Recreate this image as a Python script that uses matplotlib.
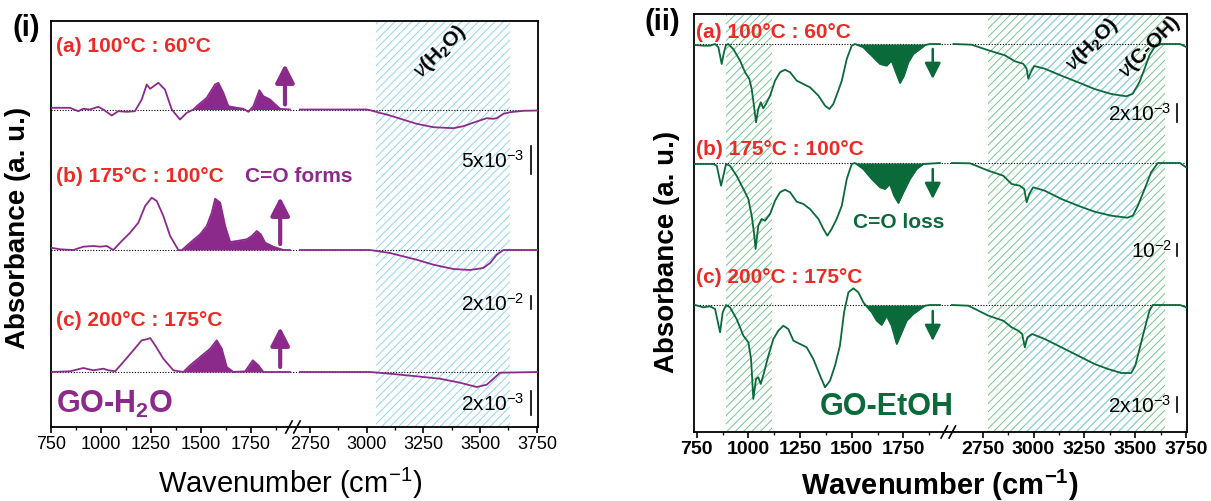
import numpy as np
import matplotlib.pyplot as plt

plt.rcParams['font.family'] = 'Liberation Sans'
plt.rcParams['mathtext.fontset'] = 'custom'
plt.rcParams['mathtext.rm'] = 'Liberation Sans'
plt.rcParams['mathtext.it'] = 'Liberation Sans:italic'
plt.rcParams['mathtext.bf'] = 'Liberation Sans:bold'
plt.rcParams['hatch.linewidth'] = 0.7

PURPLE = '#8c2a8c'
GREEN = '#0a6a3a'
RED = '#ee2a24'

# ---------------- panel (i): GO-H2O (difference spectra, a.u.) ----------------
wn_h2o_a_lo = [750, 846, 888, 913, 946, 988, 1013, 1055, 1088, 1130, 1171, 1205, 1230, 1247, 1288, 1321, 1355,
               1396, 1430, 1463, 1480, 1530, 1571, 1588, 1613, 1638, 1680, 1713, 1738, 1763, 1793, 1813, 1846,
               1896, 1946]
ab_h2o_a_lo = [1.7, 1.7, -1.7, 0.7, 0, 2.7, 0, -6, -1.7, -2.3, -1.7, 10, 25, 20.7, 26.7, 20, 0,
               -10, -3.3, 0, 3.3, 11.7, 25, 26.7, 16.7, 3.3, 1.7, 0.7, -2.3, 3.3, 19.3, 13.3, 10,
               0.7, 0]
wn_h2o_a_hi = [2706, 3000, 3015, 3103, 3220, 3294, 3382, 3426, 3485, 3529, 3559, 3573, 3603, 3632, 3691, 3755]
ab_h2o_a_hi = [0, 0, -0.7, -6, -14.3, -17.7, -18.7, -16.7, -12, -8.7, -9.3, -8.7, -4.3, -2.7, -1.3, -1]

wn_h2o_b_lo = [750, 797, 863, 913, 963, 997, 1030, 1063, 1105, 1147, 1188, 1222, 1255, 1280, 1313, 1347, 1388,
               1405, 1447, 1497, 1530, 1555, 1572, 1597, 1622, 1647, 1680, 1730, 1755, 1780, 1800, 1822, 1863,
               1913, 1946]
ab_h2o_b_lo = [2.3, 0.7, 0, 3.3, 4, 3.3, 4, 0, 9, 17.3, 27.3, 44, 52.3, 49, 34, 14, 0,
               -0.3, 7.3, 15.7, 24, 37.3, 51.3, 47.3, 24, 8, 9, 10.7, 14, 19, 15.7, 7.3, 3.3,
               0, 0]
wn_h2o_b_hi = [2706, 3015, 3103, 3220, 3294, 3382, 3455, 3514, 3544, 3573, 3603, 3755]
ab_h2o_b_hi = [0, 0, -3, -9.7, -14.7, -19, -20, -18, -13, -4.7, 0, 0]

wn_h2o_c_lo = [750, 847, 913, 963, 1013, 1038, 1072, 1113, 1163, 1205, 1230, 1247, 1272, 1313, 1363, 1413,
               1447, 1497, 1547, 1580, 1605, 1630, 1663, 1722, 1760, 1788, 1813, 1946]
ab_h2o_c_lo = [0, 0.7, 4, 1.7, 3.3, 1.7, 0.7, 10, 21.7, 31.7, 32.7, 34, 26.7, 13.3, 1.7, 0,
               6.7, 15, 23.3, 31.7, 23.3, 5, 0, 0.7, 11.7, 6.7, 0, 0]
wn_h2o_c_hi = [2706, 3015, 3103, 3220, 3323, 3411, 3485, 3529, 3559, 3588, 3755]
ab_h2o_c_hi = [0, 0, -1.7, -4.3, -6.7, -10.7, -15, -12.7, -6.7, -0.7, 0]

offset_h2o = [317.5, 177, 55]           # stacking offsets of (a), (b), (c)
arrow_h2o = [(5, 45.5), (6, 53), (5, 45)]   # up arrows (start, tip) above baseline
bar_h2o = [(-64, -36), (-59, -46), (-43, -19)]   # scale bars relative to baseline
bar_lbl_h2o = [r'5x10$^{-3}$', r'2x10$^{-2}$', r'2x10$^{-3}$']

# ---------------- panel (ii): GO-EtOH ----------------
wn_et_a_lo = [742, 782, 814, 839, 855, 871, 882, 892, 903, 927, 960, 984, 1005, 1016, 1027, 1037, 1048, 1060,
              1072, 1085, 1105, 1129, 1153, 1177, 1202, 1234, 1266, 1298, 1339, 1371, 1392, 1411, 1435, 1452,
              1476, 1500, 1516, 1556, 1597, 1637, 1669, 1693, 1714, 1734, 1753, 1774, 1798, 1831, 1855, 1879,
              1927]
ab_et_a_lo = [-1, -1.7, -1.7, 0, -3.3, -20, -8.3, -1, 0, -5, -16.7, -28.3, -35, -45, -61.7, -78.3, -65, -58.3,
              -64.3, -60, -51.7, -36.7, -28.3, -25.7, -28.3, -36.7, -40, -43.3, -51.7, -61.7, -65, -60, -46.7,
              -36.7, -15, -1.7, 0, -3.3, -11.7, -20, -21.7, -16.7, -28.3, -39, -31.7, -18.3, -10, -5, -1, 0, 0]
wn_et_a_hi = [2606, 2696, 2778, 2859, 2908, 2949, 2966, 2974, 2987, 3003, 3055, 3137, 3219, 3300, 3382, 3456,
              3488, 3521, 3546, 3570, 3595, 3627, 3720, 3750]
ab_et_a_hi = [0, -0.7, -6.3, -11.3, -17.3, -19.7, -24.7, -34.7, -28, -22, -24.7, -31.7, -38.3, -45, -50, -52.3,
              -49.7, -38, -24.7, -11.3, -3, 0, 0, -3]

wn_et_b_lo = [742, 831, 847, 868, 879, 892, 911, 943, 976, 1000, 1016, 1027, 1035, 1048, 1064, 1081, 1105, 1129,
              1153, 1177, 1202, 1234, 1266, 1298, 1339, 1363, 1382, 1403, 1427, 1452, 1476, 1500, 1516, 1556,
              1597, 1637, 1661, 1685, 1705, 1726, 1750, 1782, 1814, 1847, 1927]
ab_et_b_lo = [-1, -1, -2.7, -22.7, -12.7, -1, -2.7, -12.7, -26, -36, -52.7, -69.3, -86, -62.7, -56, -57.7, -51,
              -37.7, -29.3, -26.7, -29.3, -38.7, -41, -46, -56, -66, -72.7, -66, -56, -42.7, -16, -1, 0, -6,
              -16, -24.3, -26, -21, -32.7, -40, -29.3, -16, -6, -1, 0]
wn_et_b_hi = [2598, 2688, 2778, 2851, 2892, 2933, 2954, 2966, 2979, 2998, 3055, 3137, 3219, 3300, 3382, 3461,
              3488, 3513, 3546, 3578, 3611, 3720, 3750]
ab_et_b_hi = [0, -0.3, -7.7, -12.7, -21, -22.7, -26, -39.3, -31, -24.3, -27.7, -36, -42.7, -48.7, -52.7, -54.7,
              -52.7, -42.7, -26, -9.3, 0, 0, -4.3]

wn_et_c_lo = [742, 782, 814, 839, 863, 876, 892, 911, 943, 976, 1000, 1013, 1024, 1037, 1048, 1060, 1076, 1097,
              1121, 1145, 1169, 1193, 1218, 1250, 1282, 1314, 1347, 1371, 1395, 1419, 1443, 1463, 1484, 1508,
              1532, 1556, 1572, 1597, 1621, 1645, 1669, 1693, 1718, 1742, 1766, 1798, 1831, 1855, 1879, 1927]
ab_et_c_lo = [0, -2.3, -1.3, -4, -27.3, -7.3, 0, -2.3, -14, -30.7, -37.3, -54, -94, -74, -72.3, -79, -67.3,
              -50.7, -34, -25.7, -20.7, -24, -35.7, -39, -42.3, -54, -70.7, -82.3, -75.7, -60.7, -40.7, -7.3,
              12.7, 16.7, 12.7, 2.7, -1.3, -7.3, -15.7, -20, -10.7, -20.7, -39, -27.3, -15.7, -9, -4, -0.7, 0, 0]
wn_et_c_hi = [2598, 2680, 2778, 2851, 2892, 2925, 2944, 2957, 2970, 2993, 3055, 3137, 3219, 3300, 3366, 3431,
              3480, 3500, 3521, 3546, 3570, 3586, 3720, 3750]
ab_et_c_hi = [0, -0.7, -10.7, -15.7, -22.3, -25.7, -29, -42.3, -32.3, -29, -34, -42.3, -50.7, -59, -64, -68,
              -68, -60.7, -44, -24, -5.7, 0, 0, -2.3]

offset_et = [388, 269, 127]
arrow_et = [(-5, -35), (-6, -36), (-6, -36)]
bar_et = [(-78, -60), (-93, -81), (-107, -92)]
bar_lbl_et = [r'2x10$^{-3}$', r'10$^{-2}$', r'2x10$^{-3}$']

major_ticks = [750, 1000, 1250, 1500, 1750, 2750, 3000, 3250, 3500, 3750]
minor_ticks = [875, 1125, 1375, 1625, 1875, 2875, 3125, 3375, 3625]

W, H = 1211, 502


def broken_scale(wp, up):
    # piecewise linear axis with compressed gap between the two spectral windows
    def conv(x, xp, fp):
        x = np.asarray(x, float)
        y = np.interp(x, xp, fp)
        y = np.where(x < xp[0], fp[0] + (x - xp[0]) * (fp[1] - fp[0]) / (xp[1] - xp[0]), y)
        y = np.where(x > xp[-1], fp[-1] + (x - xp[-1]) * (fp[-1] - fp[-2]) / (xp[-1] - xp[-2]), y)
        return y
    return (lambda x: conv(x, wp, up)), (lambda u: conv(u, up, wp))


def setup_axis(ax, wp, up, xlim, ylim, bold):
    fwd, inv = broken_scale(wp, up)
    ax.set_xscale('function', functions=(fwd, inv))
    ax.set_xlim(*xlim)
    ax.set_ylim(*ylim)
    ax.set_xticks(major_ticks)
    ax.set_xticks(minor_ticks, minor=True)
    ax.set_xticklabels([str(t) for t in major_ticks], fontsize=14 if bold else 13,
                       fontweight='bold' if bold else 'normal')
    ax.set_yticks([])
    ax.tick_params(axis='x', which='major', direction='out', length=4, width=1.2, pad=2)
    ax.tick_params(axis='x', which='minor', direction='out', length=2.5, width=1.0)
    for s in ax.spines.values():
        s.set_linewidth(1.3)
    # break marks on the bottom axis
    ub = (up[1] + up[2]) / 2
    f = (ub - fwd(xlim[0])) / (fwd(xlim[1]) - fwd(xlim[0]))
    pos = ax.get_position()
    dx = 4.0 / (pos.width * W)
    dy = 6.0 / (pos.height * H)
    for d in (-dx, dx):
        ax.plot([f + d - 0.8 * dx, f + d + 0.8 * dx], [-dy, dy], color='k', lw=1.2,
                transform=ax.transAxes, clip_on=False, zorder=5)
    return fwd


def spectrum(ax, wn, ab, off, color, fill_from, sign):
    wn = np.asarray(wn, float)
    ab = np.asarray(ab, float)
    y = off + ab
    ax.plot(wn, y, color=color, lw=1.3, zorder=3)
    if fill_from is not None:
        m = (wn >= fill_from) & (sign * ab > 0)
        m = m | np.r_[m[1:], False] | np.r_[False, m[:-1]]
        ax.fill_between(wn, off, y, where=m & (wn >= fill_from - 40), color=color, lw=0, zorder=2)


fig = plt.figure(figsize=(W / 100, H / 100), dpi=100)

# ---------------- panel (i) ----------------
ax1 = fig.add_axes([50.7 / W, (H - 428) / H, (538 - 50.7) / W, (428 - 22) / H])
setup_axis(ax1, [750, 1960, 2676, 3750], [50.7, 292.7, 293.0, 536.7], (750, 3755), (0, 406), False)
ax1.axvspan(3040, 3630, facecolor='none', edgecolor='#92d5f0', hatch='////', lw=0, zorder=0)

h2o_lo = [(wn_h2o_a_lo, ab_h2o_a_lo), (wn_h2o_b_lo, ab_h2o_b_lo), (wn_h2o_c_lo, ab_h2o_c_lo)]
h2o_hi = [(wn_h2o_a_hi, ab_h2o_a_hi), (wn_h2o_b_hi, ab_h2o_b_hi), (wn_h2o_c_hi, ab_h2o_c_hi)]
arrow_x_h2o = [1921, 1897, 1897]
for k in range(3):
    off = offset_h2o[k]
    ax1.axhline(off, color='k', ls=(0, (1, 1.5)), lw=0.8, zorder=1)
    spectrum(ax1, *h2o_lo[k], off, PURPLE, 1440, 1)
    spectrum(ax1, *h2o_hi[k], off, PURPLE, None, 1)
    a0, a1 = arrow_h2o[k]
    ax1.annotate('', xy=(arrow_x_h2o[k], off + a1), xytext=(arrow_x_h2o[k], off + a0),
                 arrowprops=dict(arrowstyle='-|>,head_length=0.55,head_width=0.28', color=PURPLE, lw=3,
                                 mutation_scale=20, shrinkA=0, shrinkB=0))
    b0, b1 = bar_h2o[k]
    ax1.plot([3725, 3725], [off + b0, off + b1], color='k', lw=1.2)
    ax1.text(3695, off + (b0 + b1) / 2, bar_lbl_h2o[k], fontsize=15, ha='right', va='center')

# ---------------- panel (ii) ----------------
ax2 = fig.add_axes([694 / W, (H - 433) / H, (1186.5 - 694) / W, (433 - 15) / H])
setup_axis(ax2, [750, 1966, 2582, 3750], [696.7, 948.0, 948.5, 1186.0], (737, 3752), (0, 418), True)
ax2.axvspan(892, 1113, facecolor='none', edgecolor='#74c58f', hatch='////', lw=0, zorder=0)
ax2.axvspan(2778, 3644, facecolor='none', edgecolor='#74c58f', hatch='////', lw=0, zorder=0)
ax2.axvspan(2957, 3497, facecolor='none', edgecolor='#92d5f0', hatch='////', lw=0, zorder=0)

et_lo = [(wn_et_a_lo, ab_et_a_lo), (wn_et_b_lo, ab_et_b_lo), (wn_et_c_lo, ab_et_c_lo)]
et_hi = [(wn_et_a_hi, ab_et_a_hi), (wn_et_b_hi, ab_et_b_hi), (wn_et_c_hi, ab_et_c_hi)]
for k in range(3):
    off = offset_et[k]
    ax2.axhline(off, color='k', ls=(0, (1, 1.5)), lw=0.8, zorder=1)
    spectrum(ax2, *et_lo[k], off, GREEN, 1520, -1)
    spectrum(ax2, *et_hi[k], off, GREEN, None, -1)
    a0, a1 = arrow_et[k]
    ax2.annotate('', xy=(1892, off + a1), xytext=(1892, off + a0),
                 arrowprops=dict(arrowstyle='-|>,head_length=0.6,head_width=0.3', color=GREEN, lw=1.8,
                                 mutation_scale=16, shrinkA=0, shrinkB=0))
    b0, b1 = bar_et[k]
    ax2.plot([3706, 3706], [off + b0, off + b1], color='k', lw=1.2)
    ax2.text(3680, off + (b0 + b1) / 2, bar_lbl_et[k], fontsize=15, ha='right', va='center')


def ftext(px, py, s, **kw):
    fig.text(px / W, 1 - py / H, s, **kw)


# panel (i) annotations
ftext(26, 28, '(i)', fontsize=21, fontweight='bold', ha='center', va='center')
ftext(56, 47, '(a) 100\u00b0C : 60\u00b0C', fontsize=15, fontweight='bold', color=RED, va='center')
ftext(56, 176, '(b) 175\u00b0C : 100\u00b0C', fontsize=15, fontweight='bold', color=RED, va='center')
ftext(245, 176, 'C=O forms', fontsize=15, fontweight='bold', color=PURPLE, va='center')
ftext(56, 320, '(c) 200\u00b0C : 175\u00b0C', fontsize=15, fontweight='bold', color=RED, va='center')
ftext(56, 404, r'GO-H$_\mathbf{2}$O', fontsize=22, fontweight='bold', color=PURPLE, va='center')
ftext(440, 52, r'$\nu$(H$_\mathbf{2}$O)', fontsize=15, fontweight='bold', rotation=45, ha='center', va='center')
ftext(18, 228, 'Absorbance (a. u.)', fontsize=20, fontweight='bold', rotation=90, ha='center', va='center')
ftext(290, 483, r'Wavenumber (cm$^{-1}$)', fontsize=21, ha='center', va='center')

# panel (ii) annotations
ftext(662, 22, '(ii)', fontsize=21, fontweight='bold', ha='center', va='center')
ftext(696, 33, '(a) 100\u00b0C : 60\u00b0C', fontsize=15, fontweight='bold', color=RED, va='center')
ftext(696, 150, '(b) 175\u00b0C : 100\u00b0C', fontsize=15, fontweight='bold', color=RED, va='center')
ftext(696, 278, '(c) 200\u00b0C : 175\u00b0C', fontsize=15, fontweight='bold', color=RED, va='center')
ftext(853, 223, 'C=O loss', fontsize=15, fontweight='bold', color=GREEN, va='center')
ftext(820, 407, 'GO-EtOH', fontsize=22, fontweight='bold', color=GREEN, va='center')
ftext(1092, 45, r'$\nu$(H$_\mathbf{2}$O)', fontsize=15, fontweight='bold', rotation=45, ha='center', va='center')
ftext(1150, 47, r'$\nu$(C-OH)', fontsize=15, fontweight='bold', rotation=45, ha='center', va='center')
ftext(667, 252, 'Absorbance (a. u.)', fontsize=20, fontweight='bold', rotation=90, ha='center', va='center')
ftext(940, 485, r'Wavenumber (cm$^{\mathbf{-1}}$)', fontsize=21, fontweight='bold', ha='center', va='center')

fig.savefig('out.png', dpi=100)
